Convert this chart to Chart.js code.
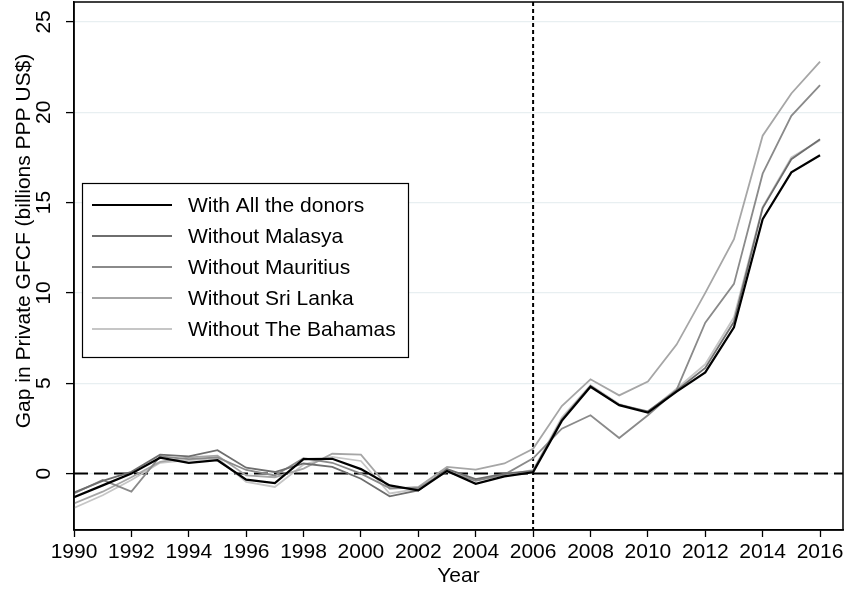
<!DOCTYPE html>
<html>
<head>
<meta charset="utf-8">
<script src="https://cdn.jsdelivr.net/npm/chart.js@4.4.0/dist/chart.umd.min.js"></script>
<style>
  html, body { margin: 0; padding: 0; background: #fff; }
  #wrap { width: 847px; height: 592px; }
</style>
</head>
<body>
<div id="wrap"><canvas id="gapChart" width="847" height="592"></canvas></div>
<script>
const years = [1990, 1991, 1992, 1993, 1994, 1995, 1996, 1997, 1998, 1999, 2000, 2001, 2002,
  2003, 2004, 2005, 2006, 2007, 2008, 2009, 2010, 2011, 2012, 2013, 2014, 2015, 2016];

// gap estimates, one array per donor pool
const allDonors = [-1.30, -0.65, 0.00, 0.88, 0.60, 0.74, -0.33, -0.52, 0.80, 0.82, 0.25, -0.65, -0.93,
  0.15, -0.56, -0.15, 0.07, 2.92, 4.81, 3.79, 3.38, 4.54, 5.60, 8.10, 14.08, 16.67, 17.62];
const noMalasya = [-1.05, -0.40, 0.10, 1.05, 0.95, 1.30, 0.33, 0.09, 0.56, 0.37, -0.28, -1.26, -0.93,
  0.25, -0.30, 0.00, 0.15, 3.00, 4.85, 3.80, 3.45, 4.60, 5.85, 8.40, 14.70, 17.40, 18.50];
const noMauritius = [-1.10, -0.35, -1.00, 0.95, 0.80, 0.90, 0.20, -0.10, 0.85, 0.60, 0.00, -0.80, -0.80,
  0.10, -0.40, -0.05, 0.85, 2.49, 3.23, 1.97, 3.23, 4.63, 8.35, 10.50, 16.60, 19.80, 21.50];
const noSriLanka = [-1.65, -1.00, -0.20, 0.65, 0.90, 1.00, -0.10, -0.20, 0.28, 1.10, 1.05, -0.84, -0.74,
  0.37, 0.22, 0.56, 1.38, 3.74, 5.22, 4.33, 5.09, 7.14, 10.00, 12.97, 18.70, 21.04, 22.80];
const noBahamas = [-1.90, -1.20, -0.35, 0.60, 0.75, 0.85, -0.46, -0.74, 0.50, 0.93, 0.70, -1.10, -0.85,
  0.20, -0.35, -0.10, 0.20, 3.10, 4.90, 3.85, 3.40, 4.70, 6.05, 8.65, 14.75, 17.50, 18.45];

const seriesNames = ['With All the donors', 'Without Malasya', 'Without Mauritius', 'Without Sri Lanka', 'Without The Bahamas'];
const seriesColors = ['#000000', '#6e6e6e', '#8a8a8a', '#a6a6a6', '#c6c6c6'];
const xTicks = [1990, 1992, 1994, 1996, 1998, 2000, 2002, 2004, 2006, 2008, 2010, 2012, 2014, 2016];
const yTicks = [0, 5, 10, 15, 20, 25];
const treatYear = 2006;
const yTitle = 'Gap in Private GFCF (billions PPP US$)';

const FONT = "'Liberation Sans', Arial, Helvetica, sans-serif";

function toPoints(vals) {
  return years.map((yr, i) => ({ x: yr, y: vals[i] }));
}

const allSeries = [allDonors, noMalasya, noMauritius, noSriLanka, noBahamas];
// black line gets order 0 so it sits on top
const datasets = allSeries.map((vals, i) => ({
  label: seriesNames[i],
  data: toPoints(vals),
  borderColor: seriesColors[i],
  borderWidth: i === 0 ? 2.2 : 1.8,
  pointRadius: 0,
  tension: 0,
  fill: false,
  order: i
}));

// zero line, treatment line, frame, y title and legend box
const extras = {
  id: 'extras',
  beforeDatasetsDraw(chart) {
    const { ctx, chartArea: a, scales: { x, y } } = chart;
    ctx.save();
    const y0 = y.getPixelForValue(0);
    ctx.strokeStyle = '#000';
    ctx.lineWidth = 2;
    ctx.setLineDash([14, 6]);
    ctx.beginPath();
    ctx.moveTo(a.left, y0);
    ctx.lineTo(a.right, y0);
    ctx.stroke();
    const xt = x.getPixelForValue(treatYear);
    ctx.setLineDash([4, 3]);
    ctx.beginPath();
    ctx.moveTo(xt, a.top);
    ctx.lineTo(xt, a.bottom);
    ctx.stroke();
    ctx.restore();
  },
  afterDraw(chart) {
    const { ctx, chartArea: a } = chart;
    ctx.save();
    ctx.strokeStyle = '#000';
    ctx.lineWidth = 1.5;
    ctx.strokeRect(a.left, a.top, a.right - a.left, a.bottom - a.top);

    // y axis title, sits a bit above the middle of the axis
    ctx.save();
    ctx.translate(24, 241);
    ctx.rotate(-Math.PI / 2);
    ctx.font = '21px ' + FONT;
    ctx.fillStyle = '#000';
    ctx.textAlign = 'center';
    ctx.textBaseline = 'middle';
    ctx.fillText(yTitle, 0, 0);
    ctx.restore();

    // legend
    const bx = 82, by = 183, bw = 326, bh = 174, rowH = 31;
    ctx.fillStyle = '#fff';
    ctx.fillRect(bx, by, bw, bh);
    ctx.lineWidth = 1.2;
    ctx.strokeRect(bx + 0.5, by + 0.5, bw, bh);
    ctx.font = '21px ' + FONT;
    ctx.textBaseline = 'middle';
    ctx.textAlign = 'left';
    chart.data.datasets.forEach((ds, i) => {
      const cy = by + 22 + i * rowH;
      ctx.strokeStyle = ds.borderColor;
      ctx.lineWidth = ds.borderWidth;
      ctx.beginPath();
      ctx.moveTo(bx + 10, cy);
      ctx.lineTo(bx + 90, cy);
      ctx.stroke();
      ctx.fillStyle = '#000';
      ctx.fillText(ds.label, bx + 106, cy + 1);
    });
    ctx.restore();
  }
};

new Chart(document.getElementById('gapChart'), {
  type: 'line',
  data: { datasets: datasets },
  options: {
    responsive: false,
    animation: false,
    layout: { padding: { top: 2, right: 4, left: 0, bottom: 0 } },
    plugins: {
      legend: { display: false },
      tooltip: { enabled: false }
    },
    scales: {
      x: {
        type: 'linear',
        min: 1990,
        max: 2016.8,
        afterBuildTicks: (axis) => { axis.ticks = xTicks.map(v => ({ value: v })); },
        afterFit: (axis) => { axis.height = 62; axis.paddingLeft = 0; axis.paddingRight = 0; },
        border: { color: '#000', width: 1.5 },
        grid: { drawOnChartArea: false, tickColor: '#000', tickLength: 7, tickWidth: 1.3 },
        ticks: {
          color: '#000',
          font: { family: FONT, size: 21 },
          padding: 3,
          maxRotation: 0,
          autoSkip: false,
          callback: (v) => String(v)
        },
        title: {
          display: true,
          text: 'Year',
          color: '#000',
          font: { family: FONT, size: 21 },
          padding: { top: 0, bottom: 3 }
        }
      },
      y: {
        min: -3.12,
        max: 26.1,
        afterBuildTicks: (axis) => { axis.ticks = yTicks.map(v => ({ value: v })); },
        afterFit: (axis) => { axis.width = 74; axis.paddingTop = 0; axis.paddingBottom = 0; },
        border: { color: '#000', width: 1.5 },
        grid: { color: '#e8eff1', lineWidth: 1.2, tickColor: '#000', tickLength: 8, tickWidth: 1.3 },
        ticks: {
          color: '#000',
          font: { family: FONT, size: 21 },
          minRotation: 90,
          maxRotation: 90,
          crossAlign: 'center',
          padding: 10,
          callback: (v) => String(v)
        }
      }
    }
  },
  plugins: [extras]
});
</script>
</body>
</html>
